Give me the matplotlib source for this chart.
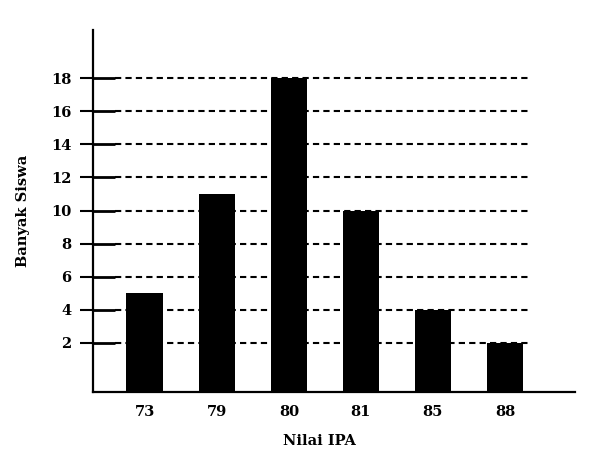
import numpy as np
import matplotlib.pyplot as plt

plt.rcParams["font.family"] = "DejaVu Serif"
plt.rcParams["font.weight"] = "bold"

# data
nilai = ["73", "79", "80", "81", "85", "88"]
banyak = [5, 11, 18, 10, 4, 2]
yticks = [2, 4, 6, 8, 10, 12, 14, 16, 18]

fig = plt.figure(figsize=(6.0, 4.63), dpi=100)
ax = fig.add_axes([0.155, 0.153, 0.803, 0.782])

x = np.arange(len(nilai))
ymin = -0.97
ax.set_xlim(-0.72, 5.97)
ax.set_ylim(ymin, 20.9)

# grid: short solid part near the axis, dashed beyond
ax.hlines(yticks, -0.72, -0.42, colors="black", linewidth=2, zorder=1, clip_on=False)
ax.hlines(yticks, -0.42, 5.32, colors="black", linewidth=1.5,
          linestyles=(0, (3, 2)), zorder=1)

ax.bar(x, np.array(banyak) - ymin, bottom=ymin, width=0.51, color="black", zorder=3)

ax.set_xticks(x)
ax.set_xticklabels(nilai)
ax.set_yticks(yticks)
ax.tick_params(axis="x", length=0, pad=9, labelsize=10.5)
ax.tick_params(axis="y", direction="out", length=9.5, width=1.5, pad=6, labelsize=10.5)

for s in ["top", "right"]:
    ax.spines[s].set_visible(False)
ax.spines["left"].set_linewidth(1.6)
ax.spines["bottom"].set_linewidth(1.6)

ax.set_xlabel("Nilai IPA", fontsize=10.5, fontweight="bold")
ax.xaxis.set_label_coords(0.469, -0.115)
ax.set_ylabel("Banyak Siswa", fontsize=10.5, fontweight="bold")
ax.yaxis.set_label_coords(-0.13, 0.5)

fig.savefig("out.png", dpi=100)
